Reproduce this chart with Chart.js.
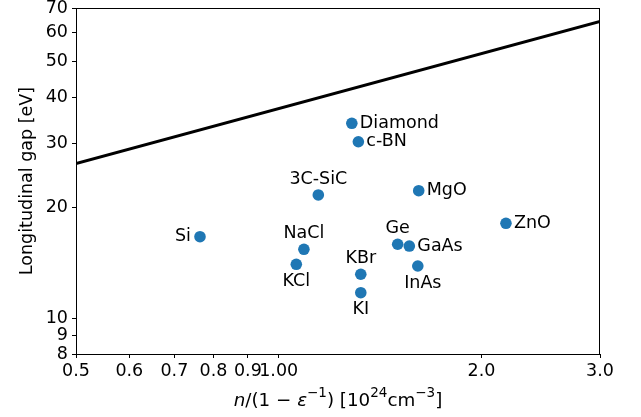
<!DOCTYPE html>
<html>
<head>
<meta charset="utf-8">
<script src="https://cdn.jsdelivr.net/npm/chart.js@4"></script>
<style>
  body { margin: 0; background: #fff; }
  canvas { display: block; }
</style>
</head>
<body>
<canvas id="gapChart" width="641" height="417"></canvas>
<script>
const materials = ['Diamond', 'c-BN', '3C-SiC', 'MgO', 'Si', 'NaCl', 'KCl', 'KBr', 'KI', 'Ge', 'GaAs', 'InAs', 'ZnO'];
const density = [1.284, 1.313, 1.145, 1.614, 0.764, 1.090, 1.062, 1.324, 1.324, 1.502, 1.563, 1.609, 2.175];
const gap = [33.98, 30.27, 21.68, 22.27, 16.69, 15.42, 14.04, 13.19, 11.75, 15.92, 15.74, 13.89, 18.15];
const labelSide = ['right', 'right', 'above', 'right', 'left', 'above', 'below', 'above', 'below', 'above', 'right', 'below', 'right'];
const lineX = [0.5, 3.0];
const lineY = [26.4, 64.3];
const xTicks = [0.5, 0.6, 0.7, 0.8, 0.9, 1, 2, 3];
const xTickLabels = ['0.5', '0.6', '0.7', '0.8', '0.9', '1.00', '2.0', '3.0'];
const yTicks = [8, 9, 10, 20, 30, 40, 50, 60, 70];

const FONT = 'DejaVu Sans';
const SIZE = 17.5;
const ctx = document.getElementById('gapChart').getContext('2d');

// point labels + axis titles + box
const decorations = {
  id: 'decorations',
  afterDatasetsDraw(chart) {
    const c = chart.ctx;
    const pts = chart.getDatasetMeta(1).data;
    c.save();
    c.fillStyle = '#000';
    c.font = SIZE + 'px "' + FONT + '"';
    pts.forEach((p, i) => {
      const side = labelSide[i];
      let x = p.x, y = p.y;
      c.textBaseline = 'middle';
      if (side === 'right') { c.textAlign = 'left'; x += 8; }
      else if (side === 'left') { c.textAlign = 'right'; x -= 9; }
      else if (side === 'above') { c.textAlign = 'center'; y -= 16; }
      else { c.textAlign = 'center'; y += 17; if (materials[i] === 'InAs') x += 5; }
      c.fillText(materials[i], x, y);
    });

    const a = chart.chartArea;
    c.strokeStyle = '#000';
    c.lineWidth = 1;
    c.strokeRect(a.left + 0.5, a.top + 0.5, a.right - a.left - 1, a.bottom - a.top);

    // y title
    c.save();
    c.translate(27, (a.top + a.bottom) / 2);
    c.rotate(-Math.PI / 2);
    c.textAlign = 'center';
    c.textBaseline = 'middle';
    c.fillText('Longitudinal gap [eV]', 0, 0);
    c.restore();

    // x title with italics and superscripts
    const parts = [
      { t: 'n', it: true }, { t: '/(1 − ' }, { t: 'ε', it: true }, { t: '−1', sup: true },
      { t: ') [10' }, { t: '24', sup: true }, { t: 'cm' }, { t: '−3', sup: true }, { t: ']' }
    ];
    const fontOf = p => (p.it ? 'italic ' : '') + (p.sup ? '13.5px' : '18.3px') + ' "' + FONT + '"';
    let total = 0;
    parts.forEach(p => { c.font = fontOf(p); total += c.measureText(p.t).width; });
    let x = (a.left + a.right) / 2 - total / 2;
    const base = 406;
    c.textAlign = 'left';
    c.textBaseline = 'alphabetic';
    parts.forEach(p => {
      c.font = fontOf(p);
      c.fillText(p.t, x, p.sup ? base - 9 : base);
      x += c.measureText(p.t).width;
    });
    c.restore();
  }
};

new Chart(ctx, {
  type: 'scatter',
  data: {
    datasets: [
      {
        type: 'line',
        data: lineX.map((x, i) => ({ x: x, y: lineY[i] })),
        borderColor: '#000',
        borderWidth: 3,
        pointRadius: 0,
        fill: false
      },
      {
        data: density.map((x, i) => ({ x: x, y: gap[i] })),
        backgroundColor: '#1f77b4',
        borderWidth: 0,
        pointRadius: 5.8,
        pointHoverRadius: 5.8
      }
    ]
  },
  options: {
    responsive: false,
    animation: false,
    layout: { padding: { top: 0, right: 41, left: 0, bottom: 0 } },
    plugins: { legend: { display: false }, tooltip: { enabled: false } },
    scales: {
      x: {
        type: 'logarithmic',
        min: 0.5,
        max: 3,
        afterBuildTicks: s => { s.ticks = xTicks.map(v => ({ value: v })); },
        afterFit: s => { s.height = 63; },
        grid: { drawOnChartArea: false, tickLength: 4, tickColor: '#000' },
        border: { color: '#000', width: 1 },
        ticks: {
          autoSkip: false,
          maxRotation: 0,
          padding: 3,
          color: '#000',
          font: { family: FONT, size: SIZE },
          callback: v => xTickLabels[xTicks.indexOf(v)]
        }
      },
      y: {
        type: 'logarithmic',
        min: 8,
        max: 70,
        afterBuildTicks: s => { s.ticks = yTicks.map(v => ({ value: v })); },
        afterFit: s => { s.width = 76; s.paddingTop = 8; },
        grid: { drawOnChartArea: false, tickLength: 4, tickColor: '#000' },
        border: { color: '#000', width: 1 },
        ticks: {
          autoSkip: false,
          padding: 4,
          color: '#000',
          font: { family: FONT, size: SIZE },
          callback: v => String(v)
        }
      }
    }
  },
  plugins: [decorations]
});
</script>
</body>
</html>
